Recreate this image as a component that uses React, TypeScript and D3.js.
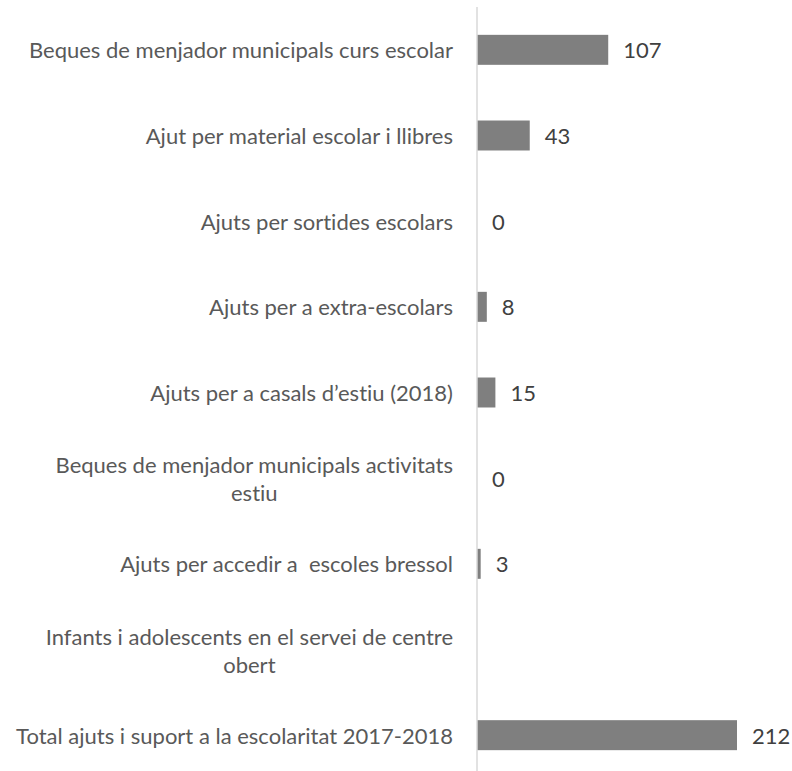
import React from "react";
import * as d3 from "d3";

const categories: string[][] = [
  ["Beques de menjador municipals curs escolar"],
  ["Ajut per material escolar i llibres"],
  ["Ajuts per sortides escolars"],
  ["Ajuts per a extra-escolars"],
  ["Ajuts per a casals d\u2019estiu (2018)"],
  ["Beques de menjador municipals activitats", "estiu"],
  ["Ajuts per accedir a \u00a0escoles bressol"],
  ["Infants i adolescents en el servei de centre", "obert"],
  ["Total ajuts i suport a la escolaritat 2017-2018"],
];
const values: (number | null)[] = [107, 43, 0, 8, 15, 0, 3, null, 212];

const W = 792;
const H = 771;
const axisX = 477;
const top = 7;
const bottom = 778;
const labelRight = 453;
const FONT = "Lato, 'Open Sans', sans-serif";
const FS = 22;
const noLig = { fontVariantLigatures: "none" as const };

export default function App() {
  const y = d3
    .scaleBand<number>()
    .domain(d3.range(categories.length))
    .range([top, bottom])
    .paddingInner(0.65)
    .paddingOuter(0.325);
  const x = d3.scaleLinear().domain([0, 212]).range([axisX, 737]);
  const lineH = 28;
  return (
    <svg
      width={W}
      height={H}
      style={{ position: "absolute", left: 0, top: 0, background: "#fff" }}
    >
      {values.map((v, i) =>
        v === null ? null : (
          <rect
            key={"b" + i}
            x={x(0)}
            y={y(i)!}
            width={x(v) - x(0)}
            height={y.bandwidth()}
            fill="#7f7f7f"
          />
        )
      )}
      <line x1={axisX} x2={axisX} y1={top} y2={bottom} stroke="#d9d9d9" strokeWidth={1.5} />
      {categories.map((lines, i) => {
        const cy = y(i)! + y.bandwidth() / 2;
        if (lines.length === 1) {
          return (
            <text
              key={"l" + i}
              x={labelRight}
              y={cy}
              textAnchor="end"
              dominantBaseline="central"
              fontFamily={FONT}
              fontSize={FS}
              fill="#595959"
              style={noLig}
            >
              {lines[0]}
            </text>
          );
        }
        return (
          <text
            key={"l" + i}
            textAnchor="middle"
            dominantBaseline="central"
            fontFamily={FONT}
            fontSize={FS}
            fill="#595959"
            style={noLig}
            ref={(el) => {
              if (el) {
                const w = (el.firstChild as SVGTSpanElement).getComputedTextLength();
                el.setAttribute("transform", `translate(${labelRight - w / 2},0)`);
              }
            }}
          >
            {lines.map((t, k) => (
              <tspan key={k} x={0} y={cy + (k - (lines.length - 1) / 2) * lineH}>
                {t}
              </tspan>
            ))}
          </text>
        );
      })}
      {values.map((v, i) =>
        v === null ? null : (
          <text
            key={"v" + i}
            x={x(v) + 15}
            y={y(i)! + y.bandwidth() / 2}
            dominantBaseline="central"
            fontFamily={FONT}
            fontSize={FS}
            fill="#404040"
          >
            {v}
          </text>
        )
      )}
    </svg>
  );
}
